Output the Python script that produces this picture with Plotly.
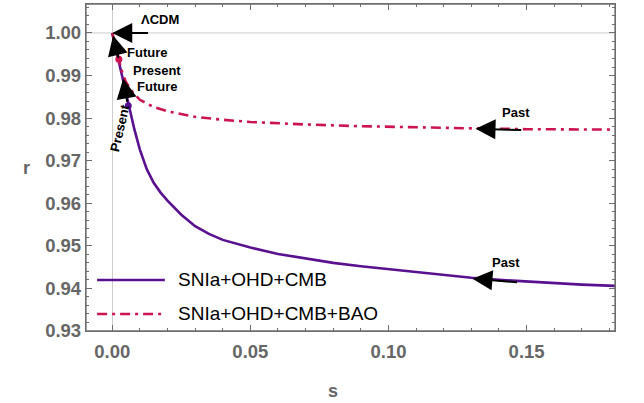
import plotly.graph_objects as go

# ---- data ----
s_cmb = [0.0, 0.002, 0.004, 0.0058, 0.008, 0.01, 0.0125, 0.015, 0.0175, 0.02, 0.025, 0.03,
         0.035, 0.04, 0.05, 0.06, 0.07, 0.08, 0.09, 0.10, 0.11, 0.12, 0.13, 0.14, 0.15,
         0.16, 0.17, 0.182]
r_cmb = [1.000, 0.9943, 0.9886, 0.9829, 0.9774, 0.9726, 0.9680, 0.9648, 0.9625, 0.9606,
         0.9573, 0.9546, 0.9528, 0.9514, 0.9496, 0.9481, 0.9470, 0.9460, 0.9452, 0.9445,
         0.9438, 0.9432, 0.9425, 0.9420, 0.9416, 0.9412, 0.9409, 0.9406]

s_bao = [0.0, 0.001, 0.0024, 0.0035, 0.005, 0.0075, 0.01, 0.015, 0.02, 0.03, 0.04, 0.05,
         0.07, 0.09, 0.11, 0.13, 0.15, 0.17, 0.182]
r_bao = [1.000, 0.9972, 0.9938, 0.9910, 0.9884, 0.9860, 0.9843, 0.9826, 0.9816, 0.9803,
         0.9796, 0.9791, 0.9785, 0.9781, 0.9778, 0.9776, 0.9774, 0.9773, 0.9773]

present_s = [0.0058, 0.0024]
present_r = [0.9829, 0.9938]

series_names = ["SNIa+OHD+CMB", "SNIa+OHD+CMB+BAO"]
x_ticks = [0.0, 0.05, 0.10, 0.15]
y_ticks = [0.93, 0.94, 0.95, 0.96, 0.97, 0.98, 0.99, 1.00]

PURPLE = "#5a1190"
RED = "#cc1450"
GRAY = "#666666"
FRAME = "#6e6e6e"
FONT = "Liberation Sans, Arial, sans-serif"

fig = go.Figure()
fig.add_trace(go.Scatter(x=s_cmb, y=r_cmb, mode="lines", name=series_names[0],
                         line=dict(color=PURPLE, width=2.6), showlegend=False))
fig.add_trace(go.Scatter(x=s_bao, y=r_bao, mode="lines", name=series_names[1],
                         line=dict(color=RED, width=2.6, dash="10px,5px,3px,5px"),
                         showlegend=False))
fig.add_trace(go.Scatter(x=present_s, y=present_r, mode="markers", showlegend=False,
                         marker=dict(color=[PURPLE, RED], size=7)))

fig.add_hline(y=1.0, line=dict(color="#cccccc", width=1), layer="below")

# arrows
def arrow(x, y, ax, ay):
    fig.add_annotation(x=x, y=y, ax=ax, ay=ay, xref="x", yref="y", axref="x", ayref="y",
                       showarrow=True, arrowhead=2, arrowsize=2.0, arrowwidth=2,
                       arrowcolor="black", text="")

arrow(0.0, 1.0, 0.0135, 1.0)
arrow(0.0003, 0.9994, 0.0024, 0.9938)
arrow(0.0040, 0.9893, 0.0055, 0.9835)
arrow(0.1315, 0.9775, 0.1486, 0.9772)
arrow(0.1304, 0.9423, 0.1471, 0.9414)

def label(x, y, t, angle=0):
    fig.add_annotation(x=x, y=y, xref="x", yref="y", text=t, showarrow=False,
                       textangle=angle,
                       font=dict(family=FONT, size=13, color="black", weight="bold"))

label(0.0174, 1.0031, "ΛCDM")
label(0.0127, 0.9954, "Future")
label(0.0161, 0.9912, "Present")
label(0.0161, 0.9875, "Future")
label(0.0029, 0.9777, "Present", angle=-77)
label(0.1460, 0.9813, "Past")
label(0.1424, 0.9460, "Past")

# manual legend
leg_y = [0.156, 0.052]
for nm, col, yy, dsh in zip(series_names, [PURPLE, RED], leg_y, ["solid", "10px,5px,3px,5px"]):
    fig.add_shape(type="line", xref="paper", yref="paper", x0=0.021, x1=0.149, y0=yy, y1=yy,
                  line=dict(color=col, width=2.6, dash=dsh))
    fig.add_annotation(xref="paper", yref="paper", x=0.170, y=yy, xanchor="left",
                       yanchor="middle", text=nm, showarrow=False,
                       font=dict(family=FONT, size=19, color="black"))

# axis titles
fig.add_annotation(xref="paper", yref="paper", x=-0.123, y=0.5, text="r", showarrow=False,
                   font=dict(family=FONT, size=18, color=GRAY, weight="bold"))
fig.add_annotation(xref="paper", yref="paper", x=0.466, y=-0.183, text="s", showarrow=False,
                   yanchor="middle",
                   font=dict(family=FONT, size=18, color=GRAY, weight="bold"))

# plot frame drawn as a paper-referenced rectangle (guarantees visibility)
fig.add_shape(type="rect", xref="paper", yref="paper", x0=0, x1=1, y0=0, y1=1,
              line=dict(color=FRAME, width=1.3), layer="above")

axis_common = dict(showline=True, linecolor=FRAME, linewidth=1.3, mirror="allticks",
                   ticks="inside", ticklen=6, tickcolor=FRAME, tickwidth=1,
                   showgrid=False, tickformat=".2f",
                   tickfont=dict(family=FONT, size=18.5, color=GRAY, weight="bold"))

fig.update_xaxes(range=[-0.0095, 0.182], tickvals=x_ticks,
                 zeroline=True, zerolinecolor="#cccccc", zerolinewidth=1,
                 minor=dict(dtick=0.01, tick0=0, ticks="inside", ticklen=3,
                            tickcolor=FRAME),
                 ticklabelstandoff=4, **axis_common)
fig.update_yaxes(range=[0.93, 1.0068], tickvals=y_ticks, zeroline=False,
                 minor=dict(dtick=0.002, tick0=0.93, ticks="inside", ticklen=3,
                            tickcolor=FRAME),
                 ticklabelstandoff=0, **axis_common)

fig.update_layout(width=644, height=403, margin=dict(l=86, r=29, t=4, b=72),
                  plot_bgcolor="white", paper_bgcolor="white", showlegend=False)

fig.write_html("out.html", config={"displayModeBar": False},
               post_script="document.body.style.margin='0px';document.body.style.overflow='hidden';")
